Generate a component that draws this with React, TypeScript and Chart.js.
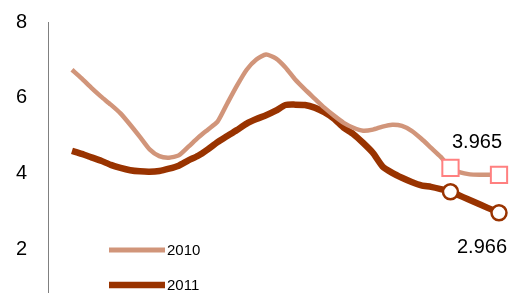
import React, { useEffect, useRef } from "react";
import { Chart, registerables } from "chart.js";

Chart.register(...registerables);

const WEEKS: number[] = Array.from({ length: 45 }, (_, i) => i);

const SERIES_2010: (number | null)[] = [
  6.74, 6.51, 6.26, 6.03, 5.82, 5.59, 5.29, 4.97, 4.64, 4.46,
  4.42, 4.48, 4.71, 4.95, 5.16, 5.37, 5.85, 6.32, 6.74, 7.01,
  7.14, 7.04, 6.80, 6.48, 6.22, 5.98, 5.74, 5.53, 5.34, 5.21,
  5.13, 5.16, 5.24, 5.29, 5.26, 5.13, 4.92, 4.68, 4.44, 4.15,
  4.03, 3.98, 3.97, 3.97, 3.965,
];

const SERIES_2011: (number | null)[] = [
  4.60, 4.52, 4.43, 4.34, 4.23, 4.15, 4.09, 4.06, 4.05, 4.07,
  4.13, 4.21, 4.35, 4.47, 4.64, 4.83, 4.99, 5.15, 5.32, 5.44,
  5.54, 5.66, 5.81, 5.82, 5.81, 5.74, 5.62, 5.45, 5.21, 5.04,
  4.81, 4.55, 4.19, 4.02, 3.89, 3.78, 3.69, 3.65, 3.59, 3.52,
  null, null, null, null, 2.966,
];

const Y_TICKS = [2, 4, 6, 8];
const SERIES_LABELS = ["2010", "2011"];
const MARKED = [39, 44];

const LIGHT = "#D1957A";
const DARK = "#993300";
const FONT = "'Liberation Sans', Arial, sans-serif";

const legendPlugin = {
  id: "customLegend",
  afterDraw(chart: any) {
    const ctx = chart.ctx;
    const rows = [250, 285];
    ctx.save();
    chart.data.datasets.forEach((ds: any, i: number) => {
      const y = rows[i];
      ctx.strokeStyle = ds.borderColor;
      ctx.lineWidth = i === 0 ? 5 : 6.5;
      ctx.lineCap = "butt";
      ctx.beginPath();
      ctx.moveTo(109, y);
      ctx.lineTo(165, y);
      ctx.stroke();
      ctx.fillStyle = "#000";
      ctx.font = `15px ${FONT}`;
      ctx.textAlign = "left";
      ctx.textBaseline = "middle";
      ctx.fillText(ds.label, 167, y + 1);
    });
    ctx.restore();
  },
};

const valueLabelPlugin = {
  id: "valueLabels",
  afterDatasetsDraw(chart: any) {
    const ctx = chart.ctx;
    const offsets = [
      { dx: -22, dy: -32 },
      { dx: -17, dy: 35 },
    ];
    ctx.save();
    ctx.fillStyle = "#000";
    ctx.font = `20px ${FONT}`;
    ctx.textAlign = "center";
    ctx.textBaseline = "middle";
    chart.data.datasets.forEach((ds: any, i: number) => {
      const meta = chart.getDatasetMeta(i);
      const last = ds.data.length - 1;
      const pt = meta.data[last];
      const v = ds.data[last].y;
      ctx.fillText(v.toFixed(3), pt.x + offsets[i].dx, pt.y + offsets[i].dy);
    });
    ctx.restore();
  },
};

export default function App() {
  const ref = useRef<HTMLCanvasElement | null>(null);

  useEffect(() => {
    if (!ref.current) return;
    const radius = (r: number) => WEEKS.map((w) => (MARKED.includes(w) ? r : 0));
    const chart = new Chart(ref.current, {
      type: "line",
      data: {
        datasets: [
          {
            label: SERIES_LABELS[0],
            data: WEEKS.map((w, i) => ({ x: w, y: SERIES_2010[i] as number })),
            borderColor: LIGHT,
            borderWidth: 4.5,
            pointStyle: "rect",
            pointRadius: radius(11.5),
            pointBackgroundColor: "#fff",
            pointBorderColor: "#FF8080",
            pointBorderWidth: 2,
            tension: 0.2,
            spanGaps: true,
            clip: false as any,
          },
          {
            label: SERIES_LABELS[1],
            data: WEEKS.map((w, i) => ({ x: w, y: SERIES_2011[i] as number })),
            borderColor: DARK,
            borderWidth: 6.5,
            pointStyle: "circle",
            pointRadius: radius(7.5),
            pointBackgroundColor: "#fff",
            pointBorderColor: DARK,
            pointBorderWidth: 2.5,
            tension: 0.2,
            spanGaps: true,
            clip: false as any,
          },
        ],
      },
      options: {
        animation: false,
        responsive: true,
        maintainAspectRatio: false,
        layout: { autoPadding: false, padding: { top: 22, left: 0, right: 0, bottom: 0 } },
        plugins: {
          legend: { display: false },
          tooltip: { enabled: false },
        },
        scales: {
          x: {
            type: "linear",
            display: false,
            min: -2.47,
            max: 45.34,
          },
          y: {
            min: 0.85,
            max: 8,
            afterBuildTicks: (axis: any) => {
              axis.ticks = Y_TICKS.map((v) => ({ value: v }));
            },
            afterFit: (scale: any) => {
              scale.width = 48;
              scale.paddingTop = 0;
              scale.paddingBottom = 0;
            },
            grid: { display: false, drawTicks: false },
            border: { display: true, color: "#808080", width: 1 },
            ticks: {
              padding: 21,
              color: "#000",
              font: { family: FONT, size: 20 },
            },
          },
        },
      },
      plugins: [valueLabelPlugin, legendPlugin],
    });
    return () => chart.destroy();
  }, []);

  return (
    <div style={{ position: "fixed", left: 0, top: 0, width: 512, height: 293, background: "#fff" }}>
      <canvas ref={ref} />
    </div>
  );
}
